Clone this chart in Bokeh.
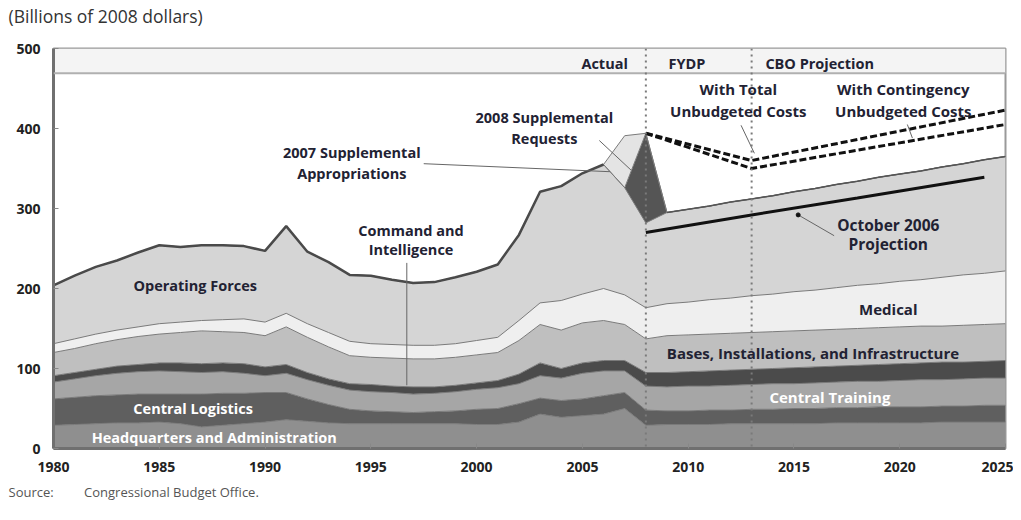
from bokeh.plotting import figure
from bokeh.models import ColumnDataSource, Range1d, Span, Label, BoxAnnotation, SingleIntervalTicker, Title
from bokeh.embed import file_html
from bokeh.resources import INLINE

# ---------------- data (billions of 2008 dollars) ----------------
years = list(range(1980, 2026))

hq = [29, 30, 31, 32, 32, 33, 31, 27, 29, 31, 33, 36, 34, 32, 31, 31, 31, 31, 31, 31,
      30, 30, 33, 43, 39, 41, 43, 50, 29,
      30, 30, 30, 31, 31, 31, 31, 31, 32, 32, 32, 32, 32, 33, 33, 33, 33]
logistics = [33, 34, 35, 35, 36, 35, 37, 41, 40, 38, 37, 34, 28, 23, 18, 16, 15, 14, 15, 16,
             19, 20, 23, 20, 21, 21, 23, 20, 19,
             17, 17, 18, 17, 18, 18, 19, 19, 19, 19, 20, 20, 20, 20, 20, 21, 21]
training = [21, 23, 25, 27, 28, 29, 28, 27, 27, 25, 21, 24, 24, 24, 24, 24, 24, 23, 23, 24,
            25, 26, 25, 28, 28, 32, 31, 27, 30,
            30, 31, 30, 31, 31, 32, 31, 32, 32, 33, 32, 33, 34, 33, 34, 34, 34]
command = [8, 8, 8, 9, 9, 10, 11, 11, 11, 12, 11, 11, 9, 8, 8, 9, 8, 9, 8, 8,
           8, 9, 12, 16, 12, 13, 13, 13, 17,
           18, 18, 19, 19, 19, 19, 20, 20, 20, 20, 21, 21, 21, 22, 21, 21, 22]
bases = [29, 30, 32, 33, 35, 36, 38, 41, 39, 39, 39, 47, 44, 40, 35, 34, 35, 35, 35, 35,
         35, 35, 42, 48, 48, 50, 50, 45, 42,
         46, 46, 46, 46, 46, 46, 46, 46, 46, 46, 46, 46, 46, 45, 46, 46, 46]
medical = [11, 12, 12, 12, 12, 13, 13, 13, 15, 17, 17, 17, 17, 18, 18, 17, 17, 17, 17, 17,
           18, 19, 25, 27, 37, 36, 40, 37, 39,
           40, 41, 43, 44, 46, 47, 49, 50, 52, 54, 55, 57, 58, 61, 63, 64, 66]
operating = [73, 79, 84, 87, 93, 98, 94, 94, 93, 91, 89, 109, 90, 88, 83, 85, 81, 78, 79, 83,
             86, 91, 107, 139, 143, 151, 155, 134, 106,
             114, 116, 117, 120, 121, 123, 125, 127, 129, 130, 133, 134, 136, 138, 139, 142, 143]
supp_2008 = [0] * 28 + [112] + [0] * 17          # 2008 supplemental requests
supp_2007 = [0] * 27 + [65] + [0] * 18           # 2007 supplemental appropriations

oct2006_years = [2008, 2013, 2018, 2024]
oct2006_vals = [270, 292, 313, 339]
unb_years = [2008, 2013, 2025]
total_unbudgeted = [394, 360, 423]
contingency_unbudgeted = [394, 350, 405]

x_ticks_start, x_ticks_end = 1980, 2025

# ---------------- figure ----------------
src = ColumnDataSource(dict(year=years, hq=hq, logistics=logistics, training=training,
                            command=command, bases=bases, medical=medical,
                            operating=operating, supp08=supp_2008, supp07=supp_2007))
stackers = ["hq", "logistics", "training", "command", "bases", "medical",
            "operating", "supp08", "supp07"]
colors = ["#8f8f8f", "#5f5f5f", "#a6a6a6", "#4b4b4b", "#bfbfbf", "#efefef",
          "#d5d5d5", "#555555", "#e4e4e4"]

FONT = "Open Sans"

p = figure(width=1013, height=512, output_backend="svg", toolbar_location=None,
           x_range=Range1d(x_ticks_start, x_ticks_end), y_range=Range1d(0, 500),
           min_border_left=53, min_border_right=8, min_border_top=48, min_border_bottom=64)
p.background_fill_color = "white"
p.border_fill_color = "white"
p.outline_line_color = "#9a9a9a"
p.outline_line_width = 2
p.xgrid.visible = False
p.ygrid.visible = False

# spacer keeps the unit caption away from the frame without enlarging the border
p.add_layout(Title(text="\u00a0", text_font_size="2px", standoff=17), "above")
p.add_layout(Title(text="(Billions of 2008 dollars)", align="left", offset=-45, standoff=0,
                   text_font=FONT, text_font_size="17.5px", text_font_style="normal",
                   text_color="#333333"), "above")
p.add_layout(Title(text="Source:" + "\u00a0" * 9 + "Congressional Budget Office.",
                   align="left", offset=-45, standoff=13,
                   text_font=FONT, text_font_size="13px", text_font_style="normal",
                   text_color="#555555"), "below")

# top band
p.add_layout(BoxAnnotation(bottom=469, top=500, fill_color="#f4f4f4", fill_alpha=1,
                           line_color=None, level="underlay"))
p.add_layout(Span(location=469, dimension="width", line_color="#b0b0b0", line_width=2))

p.varea_stack(stackers, x="year", color=colors, source=src)
p.vline_stack(stackers, x="year", color="#7a7a7a", line_width=1, source=src)

totals = [sum(v) for v in zip(hq, logistics, training, command, bases, medical, operating)]
n_hist = years.index(2006) + 1
p.line(years[:n_hist], totals[:n_hist], line_color="#4a4a4a", line_width=2.5)
n08 = years.index(2008)
p.line(years[n08 + 1:], totals[n08 + 1:], line_color="#555555", line_width=1.5)

p.line(oct2006_years, oct2006_vals, line_color="#111111", line_width=3)
p.line(unb_years, total_unbudgeted, line_color="#111111", line_width=3, line_dash="7 3")
p.line(unb_years, contingency_unbudgeted, line_color="#111111", line_width=3, line_dash="7 3")

for yr in (2008, 2013):
    p.add_layout(Span(location=yr, dimension="height", line_color="#7a7a7a",
                      line_width=2, line_dash="2 4"))

# leader lines
lead_x0 = [1996.7, 1997.5, 2005.8, 2012.5, 2020.36, 2015.2]
lead_y0 = [232, 356, 385, 404, 405, 292]
lead_x1 = [1996.7, 2006.3, 2007.3, 2013.13, 2020.6, 2016.9]
lead_y1 = [79, 346, 348, 369, 388, 266]
p.segment(lead_x0, lead_y0, lead_x1, lead_y1, line_color="#666666", line_width=1)
p.scatter([2015.2], [292], size=4, color="#111111")

# axes
p.xaxis.ticker = SingleIntervalTicker(interval=5)
p.yaxis.ticker = SingleIntervalTicker(interval=100)
for ax in (p.xaxis[0], p.yaxis[0]):
    ax.major_label_text_font = FONT
    ax.major_label_text_font_size = "14px"
    ax.major_label_text_font_style = "bold"
    ax.major_label_text_color = "#222222"
    ax.major_tick_in = 5
    ax.major_tick_out = 0
    ax.major_tick_line_color = "#888888"
    ax.minor_tick_line_color = None
    ax.axis_line_color = "#707070"
    ax.axis_line_width = 3
    ax.major_label_standoff = 9

def lab(x, y, t, size="15px", color="#222233", align="center", style="bold"):
    p.add_layout(Label(x=x, y=y, text=t, text_align=align, text_baseline="middle",
                       text_font=FONT, text_font_size=size, text_font_style=style,
                       text_color=color))

lab(2007.15, 481, "Actual", size="14.5px", align="right")
lab(2009.07, 481, "FYDP", size="14.5px", align="left")
lab(2013.65, 481, "CBO Projection", size="14.5px", align="left")

lab(1986.7, 204, "Operating Forces", size="14.5px")
lab(1986.6, 50, "Central Logistics", size="14.5px", color="white")
lab(1987.6, 14, "Headquarters and Administration", size="14.5px", color="white")
lab(1996.9, 272, "Command and", size="14.5px")
lab(1996.9, 249, "Intelligence", size="14.5px")
lab(1994.1, 370, "2007 Supplemental", size="14.5px")
lab(1994.1, 344, "Appropriations", size="14.5px")
lab(2003.2, 414, "2008 Supplemental", size="14.5px")
lab(2003.2, 388, "Requests", size="14.5px")
lab(2012.37, 450, "With Total")
lab(2012.37, 422, "Unbudgeted Costs")
lab(2020.17, 450, "With Contingency")
lab(2020.17, 422, "Unbudgeted Costs")
lab(2019.46, 280, "October 2006", size="15.5px")
lab(2019.46, 256, "Projection", size="15.5px")
lab(2019.46, 175, "Medical")
lab(2015.9, 119, "Bases, Installations, and Infrastructure")
lab(2016.7, 64, "Central Training", color="white")

open("out.html", "w").write(file_html(p, INLINE))
